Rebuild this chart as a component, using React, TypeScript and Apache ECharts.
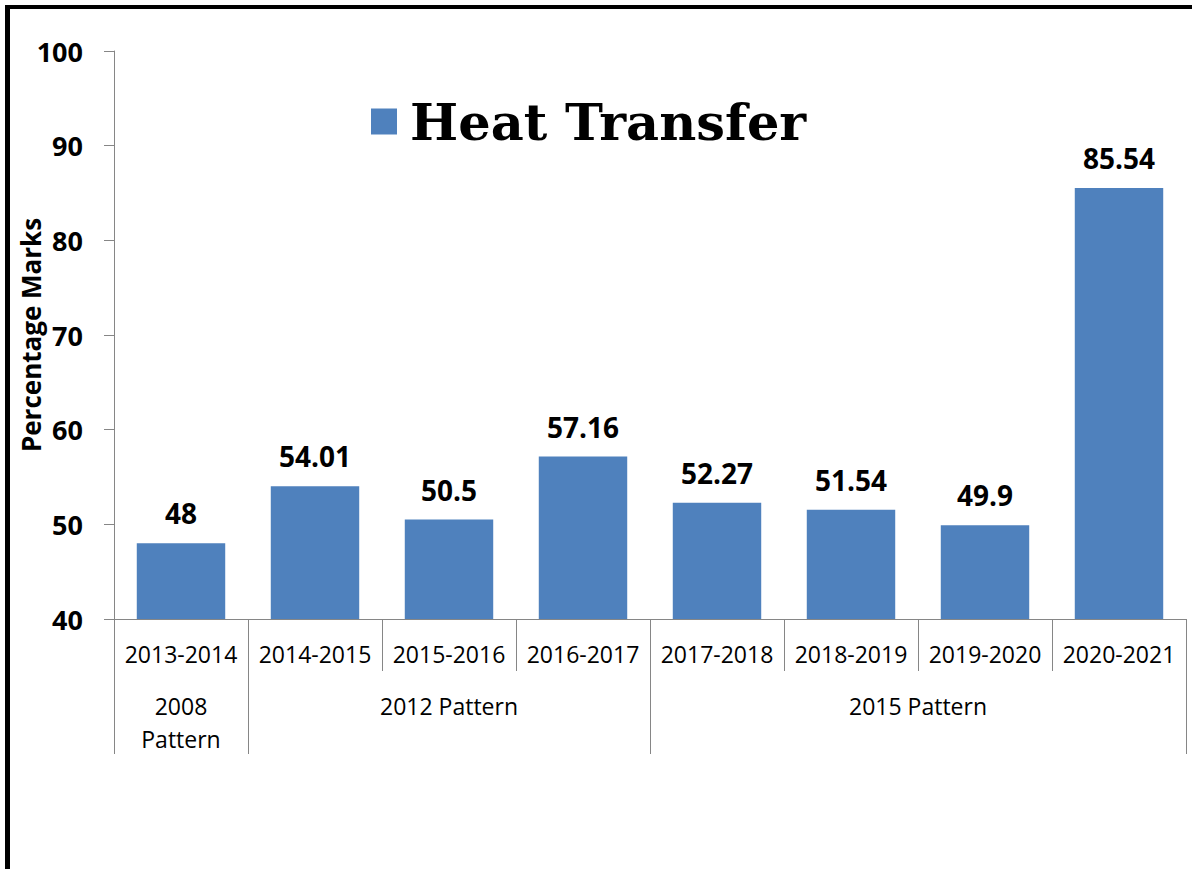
import React, { useEffect, useRef } from "react";
import * as echarts from "echarts";

const categories = ["2013-2014", "2014-2015", "2015-2016", "2016-2017", "2017-2018", "2018-2019", "2019-2020", "2020-2021"];
const values = [48, 54.01, 50.5, 57.16, 52.27, 51.54, 49.9, 85.54];
const seriesName = "Heat Transfer";
// Group axis: 17 half-step points (0, 0.5, ..., 8 in category units)
const groupPoints = ["", "2008\nPattern", "", "", "", "2012 Pattern", "", "", "", "", "", "", "2015 Pattern", "", "", "", ""];
const groupBoundaryIdx = [0, 2, 8, 16];
const yMin = 40;
const yMax = 100;
const yInterval = 10;

const GRAY = "#868686";
const SANS = "'Open Sans', 'Noto Sans', sans-serif";

export default function App() {
  const ref = useRef<HTMLDivElement>(null);
  useEffect(() => {
    if (!ref.current) return;
    const chart = echarts.init(ref.current, undefined, { renderer: "svg" });
    chart.setOption({
      animation: false,
      backgroundColor: "#ffffff",
      legend: {
        data: [seriesName],
        left: 366,
        top: 91,
        icon: "rect",
        itemWidth: 26,
        itemHeight: 26,
        textStyle: {
          fontFamily: "'DejaVu Serif', serif",
          fontWeight: 900,
          fontSize: 51,
          color: "#000",
          padding: [0, 0, 0, 8],
        },
      },
      grid: { left: 114, right: 6, top: 51, bottom: 250, containLabel: false, outerBoundsMode: "none" },
      xAxis: [
        {
          type: "category",
          data: categories,
          position: "bottom",
          axisLine: { show: true, lineStyle: { color: GRAY, width: 1 } },
          axisTick: { show: true, length: 52, lineStyle: { color: GRAY, width: 1 } },
          axisLabel: { fontFamily: SANS, fontSize: 23, color: "#000", margin: 23, interval: 0 },
        },
        {
          type: "category",
          data: groupPoints,
          position: "bottom",
          boundaryGap: false,
          axisLine: { show: false },
          axisTick: {
            show: true,
            length: 135,
            interval: (i: number) => groupBoundaryIdx.includes(i),
            lineStyle: { color: GRAY, width: 1 },
          },
          axisLabel: {
            fontFamily: SANS,
            fontSize: 23,
            lineHeight: 33,
            color: "#000",
            margin: 70,
            interval: (_i: number, v: string) => v !== "",
          },
        },
      ],
      yAxis: {
        type: "value",
        min: yMin,
        max: yMax,
        interval: yInterval,
        name: "Percentage Marks",
        nameLocation: "middle",
        nameGap: 70,
        nameMoveOverlap: false,
        nameTextStyle: { fontFamily: SANS, fontWeight: "bold", fontSize: 26, color: "#000" },
        axisLine: { show: true, lineStyle: { color: GRAY, width: 1 } },
        axisTick: { show: true, length: 10, lineStyle: { color: GRAY, width: 1 } },
        axisLabel: { fontFamily: SANS, fontWeight: "bold", fontSize: 27, color: "#000", margin: 31 },
        splitLine: { show: false },
      },
      series: [
        {
          name: seriesName,
          type: "bar",
          data: values,
          xAxisIndex: 0,
          barCategoryGap: "34%",
          itemStyle: { color: "#4F81BD" },
          label: {
            show: true,
            position: "top",
            distance: 16,
            fontFamily: SANS,
            fontWeight: "bold",
            fontSize: 28,
            color: "#000",
          },
        },
      ],
      graphic: [
        { type: "rect", shape: { x: 5, y: 5, width: 1187, height: 4 }, style: { fill: "#000" }, z: 100 },
        { type: "rect", shape: { x: 5, y: 5, width: 5, height: 864 }, style: { fill: "#000" }, z: 100 },
      ],
    });
    return () => chart.dispose();
  }, []);
  return <div ref={ref} style={{ position: "fixed", left: 0, top: 0, width: 1192, height: 869 }} />;
}
